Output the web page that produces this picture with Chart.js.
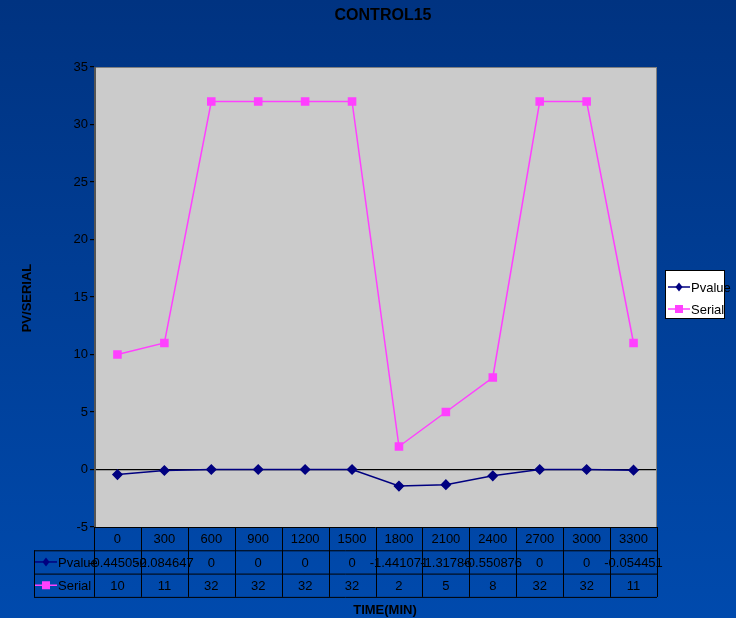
<!DOCTYPE html>
<html>
<head>
<meta charset="utf-8">
<script src="https://cdn.jsdelivr.net/npm/chart.js@4/dist/chart.umd.min.js"></script>
<style>
  html, body { margin: 0; padding: 0; }
  body { width: 736px; height: 618px; background: linear-gradient(#003381, #004aad); }
  #wrap { position: relative; width: 736px; height: 618px; }
</style>
</head>
<body>
<div id="wrap"><canvas id="chart" width="736" height="618"></canvas></div>
<script>
const times = ["0", "300", "600", "900", "1200", "1500", "1800", "2100", "2400", "2700", "3000", "3300"];
const pvalue = [-0.445052, -0.084647, 0, 0, 0, 0, -1.441071, -1.31786, -0.550876, 0, 0, -0.054451];
const serial = [10, 11, 32, 32, 32, 32, 2, 5, 8, 32, 32, 11];
const pvalueText = ["-0.445052", "-0.084647", "0", "0", "0", "0", "-1.441071", "-1.31786", "-0.550876", "0", "0", "-0.054451"];
const yTicks = [-5, 0, 5, 10, 15, 20, 25, 30, 35];

const FONT = "'Liberation Sans', Arial, sans-serif";
const NAVY = "#000080";
const PINK = "#ff40ff";

function drawSymbol(ctx, x, y, color, kind) {
  ctx.save();
  ctx.strokeStyle = color;
  ctx.fillStyle = color;
  ctx.lineWidth = 1.5;
  ctx.beginPath();
  ctx.moveTo(x - 11, y);
  ctx.lineTo(x + 11, y);
  ctx.stroke();
  if (kind === "diamond") {
    ctx.beginPath();
    ctx.moveTo(x, y - 4.5);
    ctx.lineTo(x + 3.5, y);
    ctx.lineTo(x, y + 4.5);
    ctx.lineTo(x - 3.5, y);
    ctx.closePath();
    ctx.fill();
  } else {
    ctx.fillRect(x - 4, y - 4, 8, 8);
  }
  ctx.restore();
}

const decor = {
  id: "decor",
  beforeDraw(chart) {
    const { ctx, chartArea: a } = chart;
    ctx.save();
    ctx.fillStyle = "#cbcbcb";
    ctx.fillRect(a.left, a.top, a.right - a.left, a.bottom - a.top);
    ctx.restore();
  },
  afterDraw(chart) {
    const { ctx, chartArea: a } = chart;
    const x = chart.scales.x;
    ctx.save();
    // plot border
    ctx.strokeStyle = "#808080";
    ctx.lineWidth = 1;
    ctx.strokeRect(a.left + 0.5, a.top + 0.5, a.right - a.left - 1, a.bottom - a.top);
    ctx.strokeStyle = "#555";
    ctx.lineWidth = 2;
    ctx.beginPath();
    ctx.moveTo(a.left + 1, a.top);
    ctx.lineTo(a.left + 1, a.bottom);
    ctx.stroke();

    // titles
    ctx.fillStyle = "#000";
    ctx.font = "bold 16px " + FONT;
    ctx.textAlign = "center";
    ctx.textBaseline = "middle";
    ctx.fillText("CONTROL15", 383, 16);
    ctx.font = "bold 13px " + FONT;
    ctx.fillText("TIME(MIN)", 385, 610);
    ctx.save();
    ctx.translate(27, 298);
    ctx.rotate(-Math.PI / 2);
    ctx.fillText("PV/SERIAL", 0, 0);
    ctx.restore();

    // data table
    const rowH = 23.3;
    const t0 = a.bottom;
    const leftX = 34;
    ctx.strokeStyle = "#000";
    ctx.lineWidth = 1;
    ctx.beginPath();
    ctx.moveTo(a.left, t0 + 0.5); ctx.lineTo(a.right, t0 + 0.5);
    ctx.moveTo(leftX, t0 + rowH + 0.5); ctx.lineTo(a.right, t0 + rowH + 0.5);
    ctx.moveTo(leftX, t0 + 2 * rowH + 0.5); ctx.lineTo(a.right, t0 + 2 * rowH + 0.5);
    ctx.moveTo(leftX, t0 + 3 * rowH + 0.5); ctx.lineTo(a.right, t0 + 3 * rowH + 0.5);
    ctx.moveTo(leftX + 0.5, t0 + rowH); ctx.lineTo(leftX + 0.5, t0 + 3 * rowH);
    const colW = (a.right - a.left) / times.length;
    for (let i = 0; i <= times.length; i++) {
      const cx = Math.round(a.left + i * colW) + 0.5;
      ctx.moveTo(cx, t0); ctx.lineTo(cx, t0 + 3 * rowH);
    }
    ctx.stroke();

    ctx.font = "13px " + FONT;
    ctx.textAlign = "center";
    times.forEach((t, i) => {
      const cx = x.getPixelForValue(i);
      ctx.fillText(t, cx, t0 + rowH / 2 + 1);
      ctx.fillText(pvalueText[i], cx, t0 + rowH * 1.5 + 1);
      ctx.fillText(String(serial[i]), cx, t0 + rowH * 2.5 + 1);
    });
    drawSymbol(ctx, leftX + 12, t0 + rowH * 1.5, NAVY, "diamond");
    drawSymbol(ctx, leftX + 12, t0 + rowH * 2.5, PINK, "square");
    ctx.fillStyle = "#000";
    ctx.textAlign = "left";
    ctx.fillText("Pvalue", leftX + 24, t0 + rowH * 1.5 + 1);
    ctx.fillText("Serial", leftX + 24, t0 + rowH * 2.5 + 1);

    // legend
    const lx = 665, ly = 270, lw = 59, lh = 48;
    ctx.fillStyle = "#fff";
    ctx.fillRect(lx, ly, lw, lh);
    ctx.strokeStyle = "#000";
    ctx.strokeRect(lx + 0.5, ly + 0.5, lw, lh);
    drawSymbol(ctx, lx + 14, ly + 17, NAVY, "diamond");
    drawSymbol(ctx, lx + 14, ly + 39, PINK, "square");
    ctx.fillStyle = "#000";
    ctx.fillText("Pvalue", lx + 26, ly + 18);
    ctx.fillText("Serial", lx + 26, ly + 40);
    ctx.restore();
  }
};

new Chart(document.getElementById("chart"), {
  type: "line",
  data: {
    labels: times,
    datasets: [{
      label: "Pvalue",
      data: pvalue,
      borderColor: NAVY,
      backgroundColor: NAVY,
      borderWidth: 1.5,
      pointStyle: "rectRot",
      pointRadius: 4.5,
      pointHoverRadius: 4.5,
      tension: 0
    }, {
      label: "Serial",
      data: serial,
      borderColor: PINK,
      backgroundColor: PINK,
      borderWidth: 1.5,
      pointStyle: "rect",
      pointRadius: 5,
      pointHoverRadius: 5,
      tension: 0
    }]
  },
  options: {
    responsive: false,
    animation: false,
    devicePixelRatio: 1,
    layout: { padding: { top: 67, right: 79, left: 0, bottom: 0 } },
    scales: {
      x: {
        offset: true,
        grid: { display: false },
        border: { display: false },
        ticks: { display: false },
        afterFit(s) { s.height = 91; }
      },
      y: {
        min: -5,
        max: 35,
        afterBuildTicks(s) { s.ticks = yTicks.map(v => ({ value: v })); },
        border: { display: false },
        grid: {
          color: c => (c.tick && c.tick.value === 0 ? "#000" : "rgba(0,0,0,0)"),
          tickColor: "#000",
          tickLength: 4,
          lineWidth: 1.2
        },
        ticks: {
          color: "#000",
          padding: 2,
          font: { family: FONT, size: 13 }
        },
        afterFit(s) { s.width = 94; }
      }
    },
    plugins: {
      legend: { display: false },
      title: { display: false },
      tooltip: { enabled: false }
    }
  },
  plugins: [decor]
});
</script>
</body>
</html>
